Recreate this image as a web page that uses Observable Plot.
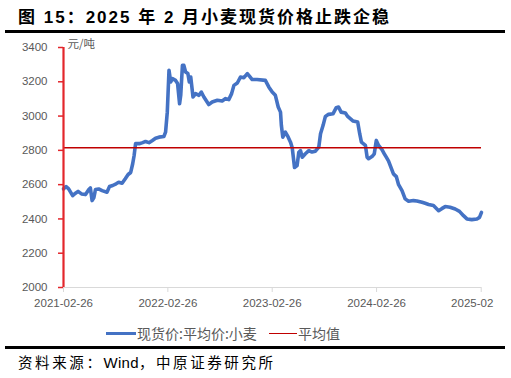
<!DOCTYPE html>
<html>
<head>
<meta charset="utf-8">
<script src="https://cdn.jsdelivr.net/npm/d3@7"></script>
<script src="https://cdn.jsdelivr.net/npm/@observablehq/plot@0.6"></script>
<style>
  html, body { margin: 0; padding: 0; background: #fff; }
  #wrap { position: relative; width: 511px; height: 378px; overflow: hidden; font-family: "Liberation Sans", "Noto Sans CJK SC", sans-serif; }
  #title { position: absolute; left: 18px; top: 3px; font-size: 17px; font-weight: bold; letter-spacing: 2px; color: #000; white-space: nowrap; font-family: "Liberation Sans", "Noto Sans CJK SC", sans-serif; }
  .rule { position: absolute; left: 5px; width: 500px; background: #000; }
  #chart { position: absolute; left: 0; top: 35px; }
  #legend { position: absolute; top: 324px; left: 0; width: 511px; height: 18px; font-size: 14px; color: #595959; font-family: "Noto Sans CJK SC", sans-serif; }
  .sw { position: absolute; }
  .lt { position: absolute; top: 0; line-height: 18px; white-space: nowrap; }
  #source { position: absolute; left: 18px; top: 351px; font-size: 14.5px; letter-spacing: 2.6px; color: #000; white-space: nowrap; font-family: "Noto Sans CJK SC", sans-serif; }
  #source .en { letter-spacing: 0.3px; font-family: "Liberation Sans", sans-serif; font-size: 15px; }
</style>
</head>
<body>
<div id="wrap">
  <div id="title">图 15：2025 年 2 月小麦现货价格止跌企稳</div>
  <div class="rule" style="top:30px;height:3px;"></div>
  <div id="chart"></div>
  <div id="legend">
    <div class="sw" style="left:106px;top:7.5px;width:30px;height:3.5px;background:#4472C4;"></div>
    <div class="lt" style="left:137px;">现货价:平均价:小麦</div>
    <div class="sw" style="left:269px;top:8.5px;width:28px;height:1.6px;background:#C00000;"></div>
    <div class="lt" style="left:298px;">平均值</div>
  </div>
  <div class="rule" style="top:345.5px;height:3px;"></div>
  <div id="source">资料来源：<span class="en">Wind</span>，中原证券研究所</div>
</div>
<script>
// Series: 现货价:平均价:小麦 (元/吨)
const dates = [
  "2021-02-26","2021-03-07","2021-03-16","2021-03-30","2021-04-09","2021-04-18","2021-04-30","2021-05-14","2021-05-25","2021-05-31",
  "2021-06-06","2021-06-12","2021-06-18","2021-06-29","2021-07-11","2021-07-28","2021-08-06","2021-08-17","2021-08-29","2021-09-07",
  "2021-09-19","2021-09-30","2021-10-10","2021-10-19","2021-10-26","2021-10-31","2021-11-05","2021-11-18","2021-11-30","2021-12-10",
  "2021-12-22","2022-01-03","2022-01-14","2022-01-26","2022-02-12","2022-02-18","2022-02-24","2022-03-02","2022-03-08","2022-03-14",
  "2022-03-25","2022-04-01","2022-04-08","2022-04-12","2022-04-18","2022-04-23","2022-04-29","2022-05-07","2022-05-12","2022-05-17",
  "2022-05-25","2022-06-03","2022-06-15","2022-06-23","2022-07-02","2022-07-19","2022-07-31","2022-08-18","2022-09-04","2022-09-16",
  "2022-09-27","2022-10-07","2022-10-15","2022-10-27","2022-11-07","2022-11-19","2022-12-01","2022-12-09","2022-12-18","2023-01-04",
  "2023-02-02","2023-02-14","2023-02-26","2023-03-09","2023-03-19","2023-03-27","2023-03-30","2023-04-04","2023-04-13","2023-04-23",
  "2023-05-01","2023-05-07","2023-05-15","2023-05-24","2023-05-30","2023-06-05","2023-06-11","2023-06-22","2023-07-04","2023-07-15",
  "2023-07-27","2023-08-08","2023-08-14","2023-08-23","2023-08-31","2023-09-11","2023-09-27","2023-10-08","2023-10-16","2023-10-25",
  "2023-11-09","2023-11-17","2023-11-26","2023-12-06","2023-12-22","2023-12-29","2024-01-04","2024-01-18","2024-01-24","2024-01-29",
  "2024-02-10","2024-02-18","2024-02-25","2024-03-04","2024-03-16","2024-03-24","2024-03-31","2024-04-08","2024-04-25","2024-05-05",
  "2024-05-13","2024-05-25","2024-06-05","2024-06-17","2024-07-04","2024-07-16","2024-08-03","2024-08-14","2024-08-26","2024-09-12",
  "2024-09-24","2024-09-30","2024-10-11","2024-10-23","2024-11-09","2024-11-27","2024-12-12","2024-12-26","2025-01-07","2025-01-24",
  "2025-02-11","2025-02-20","2025-02-27"
];
const prices = [
  2575,2589,2575,2536,2550,2561,2546,2542,2570,2581,
  2507,2523,2572,2575,2565,2556,2589,2595,2605,2614,
  2608,2634,2659,2671,2722,2770,2839,2839,2845,2852,
  2845,2858,2871,2877,2881,2906,3023,3267,3199,3218,
  3208,3190,3072,3121,3296,3296,3257,3248,3199,3228,
  3111,3131,3121,3140,3111,3067,3082,3092,3088,3102,
  3096,3131,3179,3193,3228,3224,3248,3232,3213,3213,
  3208,3170,3140,3121,3053,3023,2946,2877,2906,2877,
  2848,2815,2700,2711,2789,2798,2760,2780,2798,2790,
  2795,2819,2897,2946,2998,3010,3014,3049,3053,3023,
  3018,2998,2985,2971,2965,2897,2848,2829,2760,2751,
  2764,2780,2858,2829,2804,2780,2760,2737,2663,2647,
  2600,2565,2517,2503,2507,2505,2497,2491,2484,2478,
  2458,2448,2460,2472,2468,2458,2444,2419,2400,2396,
  2400,2409,2438
];
const meanValue = 2815;            // 平均值
const yTicks = [2000, 2200, 2400, 2600, 2800, 3000, 3200, 3400];
const xTickDates = ["2021-02-26","2022-02-26","2023-02-26","2024-02-26","2025-02-26"];
const xTickLabels = ["2021-02-26","2022-02-26","2023-02-26","2024-02-26","2025-02"];
const unitLabel = "元/吨";

const parse = d3.utcParse("%Y-%m-%d");
const data = dates.map((d, i) => ({date: parse(d), price: prices[i]}));
const xTicks = xTickDates.map(parse);
const xDomain = [parse("2021-02-26"), parse("2025-02-27")];
const yDomain = [2000, 3400];

const axisRed = "#e3262b";
const grayText = "#595959";

const chart = Plot.plot({
  width: 511,
  height: 282,
  marginLeft: 63,
  marginRight: 30,
  marginTop: 12,
  marginBottom: 30,
  style: {fontFamily: "'Liberation Sans', 'Noto Sans CJK SC', sans-serif", fontSize: "11.5px"},
  x: {type: "utc", domain: xDomain},
  y: {domain: yDomain},
  marks: [
    Plot.ruleY([yDomain[0]], {stroke: "#d9d9d9", strokeWidth: 1}),
    Plot.axisX({ticks: xTicks, tickSize: 5, stroke: "#d9d9d9", fill: grayText, tickPadding: 6,
      tickFormat: (d) => xTickLabels[xTicks.findIndex(t => +t === +d)], label: null, fontSize: 11.5}),
    Plot.axisY({ticks: yTicks, tickSize: 0, tickPadding: 16, fill: grayText, tickFormat: d3.format("d"), label: null, fontSize: 11.5}),
    Plot.text([unitLabel], {frameAnchor: "top-left", dx: 4, dy: -3, textAnchor: "start", lineAnchor: "middle", fill: grayText, fontSize: 11.5,
      fontFamily: "'Noto Sans CJK SC', sans-serif"}),
    Plot.line(data, {x: "date", y: "price", stroke: "#4472C4", strokeWidth: 3.6, strokeLinejoin: "round", strokeLinecap: "round"}),
    Plot.ruleY([meanValue], {stroke: "#C00000", strokeWidth: 1.6}),
    // red y-axis line and its tick marks
    Plot.ruleY(yTicks, {x1: xDomain[0], x2: xDomain[0], insetLeft: -5, stroke: axisRed, strokeWidth: 1.5}),
    Plot.ruleX([xDomain[0]], {y1: yDomain[0], y2: yDomain[1], stroke: axisRed, strokeWidth: 2.2})
  ]
});
document.getElementById("chart").appendChild(chart);

// nudge the last (truncated) x label leftward like the reference
const xLabels = Array.from(chart.querySelectorAll("g[aria-label='x-axis tick label'] text"));
if (xLabels.length) xLabels[xLabels.length - 1].setAttribute("dx", "-9");
</script>
</body>
</html>
